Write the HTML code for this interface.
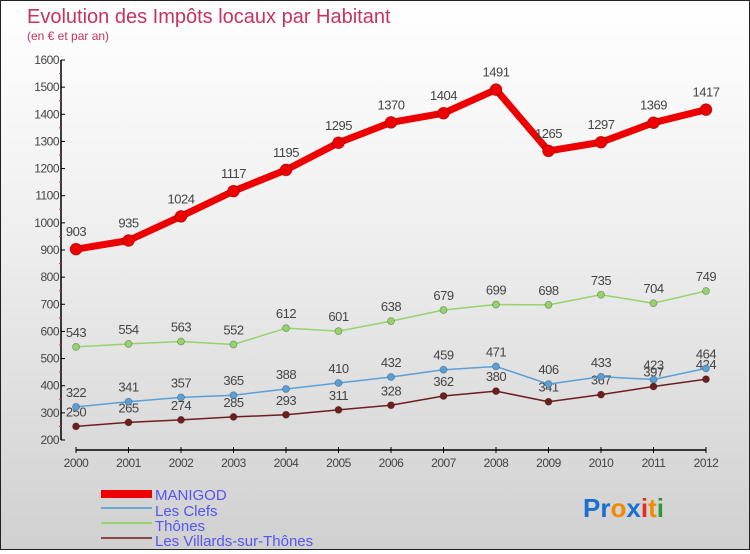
<!DOCTYPE html>
<html><head><meta charset="utf-8"><style>
body{margin:0;width:750px;height:550px;overflow:hidden}
#wrap{position:relative;width:748px;height:548px;border:1px solid #222;background:linear-gradient(#fff,#f0f0f0 40%,#d0d0d0)}
text{font-family:"Liberation Sans",sans-serif}
</style></head><body>
<div id="wrap">
<svg id="c" width="748" height="548">
<text x="26" y="22" font-size="20" fill="#c8325f">Evolution des Impôts locaux par Habitant</text>
<text x="26" y="39" font-size="12" fill="#c8325f">(en € et par an)</text>
<g id="axes"></g><g id="series"></g>
<g>
<rect x="100" y="489" width="51" height="8" fill="#e00"/>
<text x="154" y="499" font-size="15" fill="#5555ee">MANIGOD</text>
<line x1="100" y1="507" x2="151" y2="507" stroke="#6aa7d6" stroke-width="2"/>
<text x="154" y="515" font-size="15" fill="#5555ee">Les Clefs</text>
<line x1="100" y1="522" x2="151" y2="522" stroke="#94d46a" stroke-width="2"/>
<text x="154" y="530" font-size="15" fill="#5555ee">Thônes</text>
<line x1="100" y1="537" x2="151" y2="537" stroke="#8a4a4a" stroke-width="2"/>
<text x="154" y="545" font-size="15" fill="#5555ee">Les Villards-sur-Thônes</text>
</g>
<text x="582" y="516" font-size="26" font-weight="bold"><tspan fill="#1a6fd0">Pr</tspan><tspan fill="#f08a00">o</tspan><tspan fill="#1a6fd0">x</tspan><tspan fill="#e03020">i</tspan><tspan fill="#f08a00">t</tspan><tspan fill="#2a9a3a">i</tspan></text>
</svg></div>
<script>
const years=[2000,2001,2002,2003,2004,2005,2006,2007,2008,2009,2010,2011,2012];
const manigod=[903,935,1024,1117,1195,1295,1370,1404,1491,1265,1297,1369,1417];
const clefs=[322,341,357,365,388,410,432,459,471,406,433,423,464];
const thones=[543,554,563,552,612,601,638,679,699,698,735,704,749];
const villards=[250,265,274,285,293,311,328,362,380,341,367,397,424];
const yTicks=[200,300,400,500,600,700,800,900,1000,1100,1200,1300,1400,1500,1600];
const NS="http://www.w3.org/2000/svg";
const X=i=>75+i*52.5, Y=v=>439-(v-200)*380/1400;
function mk(p,t,a){const e=document.createElementNS(NS,t);for(const k in a)e.setAttribute(k,a[k]);p.appendChild(e);return e;}
const ax=document.getElementById('axes');
let e=mk(ax,'line',{x1:60,y1:Y(1600),x2:60,y2:Y(200),stroke:'#000','stroke-width':1.5});


e=mk(ax,'line',{x1:X(0),y1:449,x2:X(12),y2:449,stroke:'#000','stroke-width':1.5});


yTicks.forEach(v=>{mk(ax,'line',{x1:60,y1:Y(v),x2:64,y2:Y(v),stroke:'#000'});
 if(v<1600)mk(ax,'line',{x1:58,y1:Y(v+50),x2:60,y2:Y(v+50),stroke:'#e33'});
 const t=mk(ax,'text',{x:58,y:Y(v)+4,'font-size':12,fill:'#444','text-anchor':'end','letter-spacing':'-0.5'});t.textContent=v;
 
 });
years.forEach((y,i)=>{mk(ax,'line',{x1:X(i),y1:446,x2:X(i),y2:452,stroke:'#000'});
 const t=mk(ax,'text',{x:X(i),y:466,'font-size':12,fill:'#444','text-anchor':'middle','letter-spacing':'-0.5'});t.textContent=y;
 
 });
const sg=document.getElementById('series');
function series(vals,col,w,r,name,dy){
 const g=mk(sg,'g',{});
 
 
 mk(g,'polyline',{points:vals.map((v,i)=>X(i)+','+Y(v)).join(' '),fill:'none',stroke:col,'stroke-width':w,'stroke-linejoin':'round'});
 vals.forEach((v,i)=>{const c=mk(g,'circle',{cx:X(i),cy:Y(v),r:r,fill:col,stroke:'rgba(0,0,0,0.3)','stroke-width':0.8});
  
  
  const t=mk(g,'text',{x:X(i),y:Y(v)-dy,'font-size':13,fill:'#444','text-anchor':'middle','letter-spacing':'-0.5'});t.textContent=v;
  
  });
}
series(villards,'#6e1e1e',1.5,3.5,'series-villards',10);
series(clefs,'#5aa0d8',1.5,3.5,'series-les-clefs',10);
series(thones,'#94d46a',1.5,3.5,'series-thones',10);
series(manigod,'#ee0000',7,6,'series-manigod',13);
</script>
</body></html>
